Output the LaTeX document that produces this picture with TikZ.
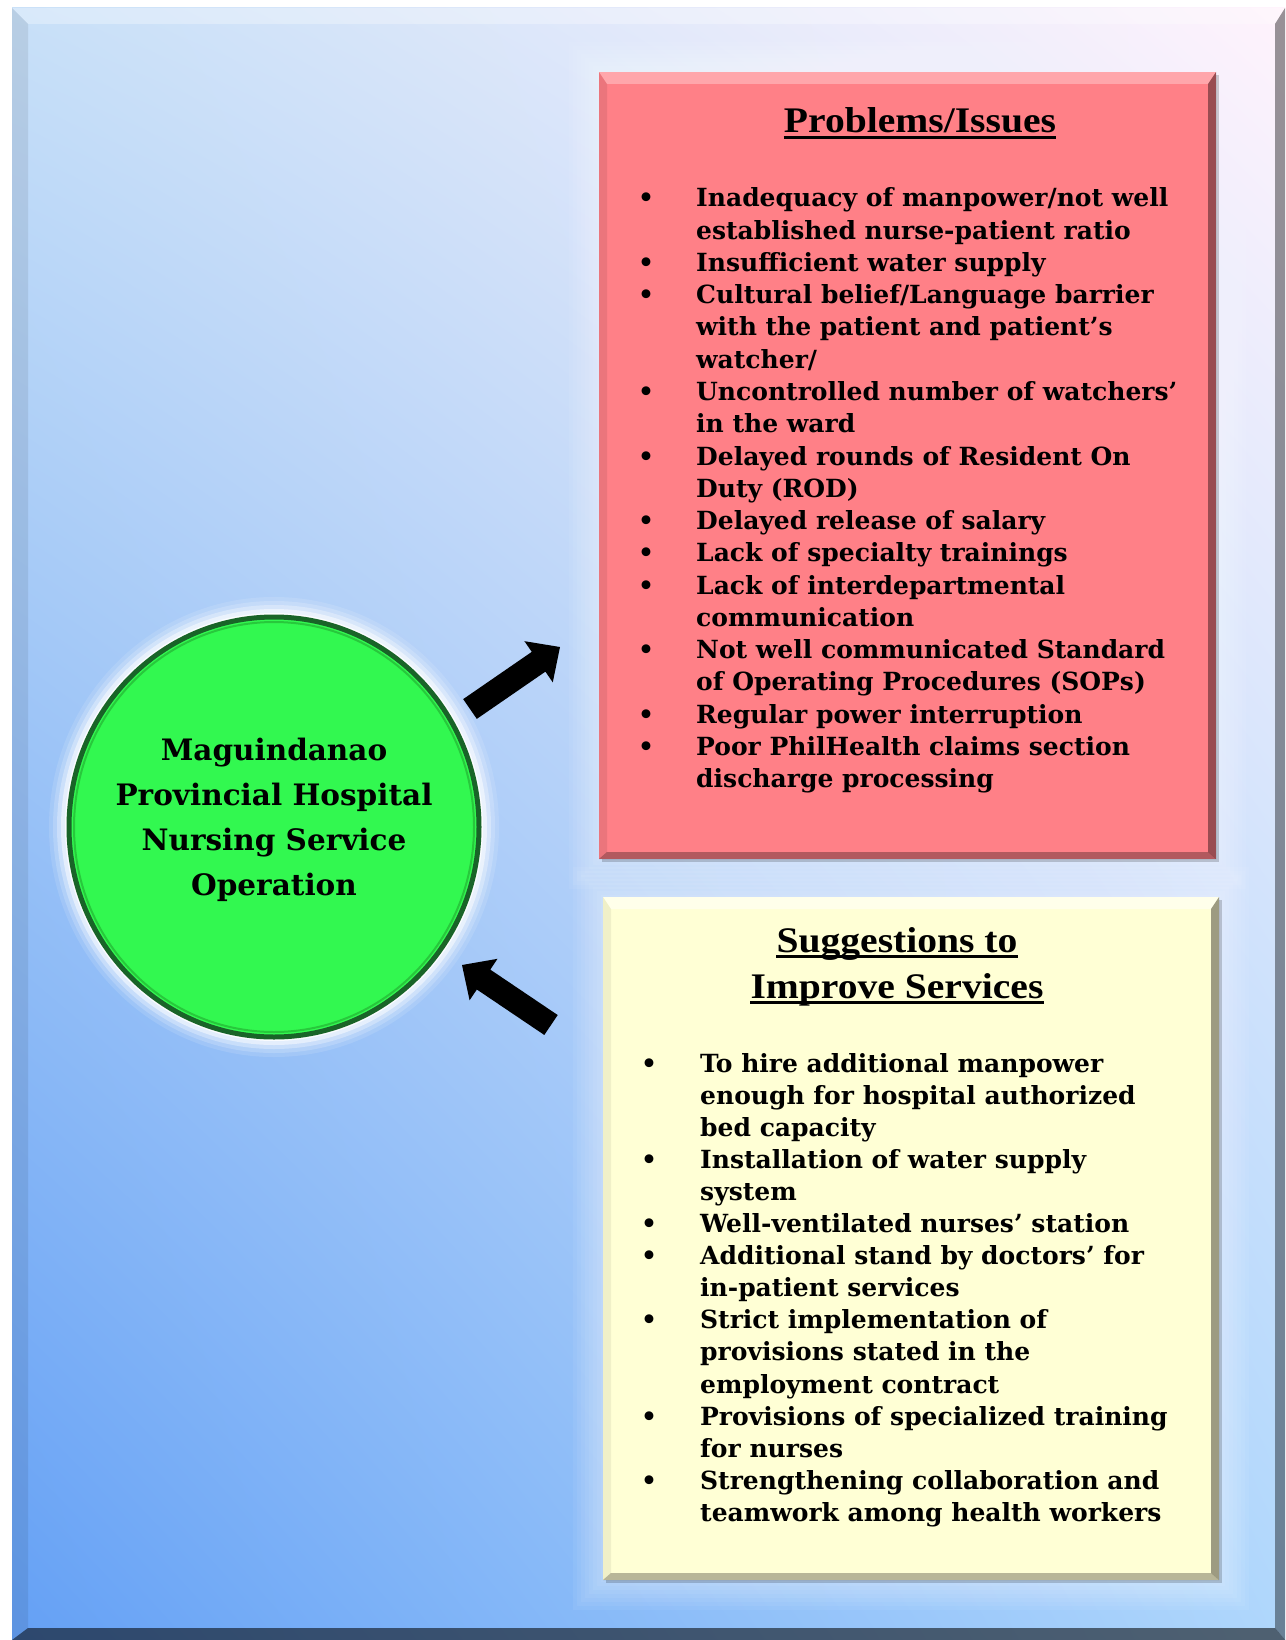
\documentclass[tikz,border=0pt]{standalone}
\usepackage{fontspec}
\setmainfont{DejaVu Serif}
\newfontfamily\titlefont[FakeStretch=1.1]{Liberation Serif}
\usetikzlibrary{calc,shapes.geometric,shadings}
\definecolor{bgUL}{RGB}{200,224,248}
\definecolor{bgUR}{RGB}{255,243,252}
\definecolor{bgLL}{RGB}{100,160,245}
\definecolor{bgLR}{RGB}{175,215,252}
\definecolor{redfill}{RGB}{255,128,135}
\definecolor{yelfill}{RGB}{255,255,213}
\definecolor{hubfill}{RGB}{50,248,80}
\definecolor{hubedge}{RGB}{25,100,40}
\definecolor{hubring}{RGB}{40,200,60}
\newcommand{\itm}{\makebox[50pt][l]{\makebox[0pt][c]{\textbullet}}}
\newcommand{\itmb}{\makebox[51pt][l]{\makebox[0pt][c]{\textbullet}}}
\newcommand{\fatarrow}[2]{%
  \coordinate (fab) at ($(#2)!26pt!(#1)$);
  \fill[black] ($(#1)!12pt!90:(#2)$) -- ($(fab)!12pt!90:(#2)$) -- ($(fab)!25pt!90:(#2)$) -- (#2)
    -- ($(fab)!25pt!-90:(#2)$) -- ($(fab)!12pt!-90:(#2)$) -- ($(#1)!12pt!-90:(#2)$) -- cycle;}
\begin{document}
\begin{tikzpicture}[x=1pt,y=-1pt,
  panelbox/.style={inner sep=0pt, outer sep=0pt, anchor=north west},
  listtext/.style={inner sep=0pt, anchor=base west, font=\fontsize{25}{#1}\selectfont\bfseries},
  titletext/.style={inner sep=0pt, anchor=base, font=\titlefont\fontsize{36}{40}\selectfont\bfseries},
  hubtext/.style={inner sep=0pt, anchor=base, font=\fontsize{29.5}{45.2}\selectfont\bfseries},
  uline/.style={line width=2.2pt, black}]
\useasboundingbox (0,0) rectangle (1285,1640);
\fill[white] (0,0) rectangle (1285,1640);
% background panel
\shade[upper left=bgUL, upper right=bgUR, lower left=bgLL, lower right=bgLR] (12,8) rectangle (1285,1640);
\fill[white,opacity=.3] (12,8) -- (1285,8) -- (1275,24) -- (28,24) -- cycle;
\fill[black,opacity=.08] (12,8) -- (28,24) -- (28,1628) -- (12,1640) -- cycle;
\fill[black,opacity=.4] (1285,8) -- (1285,1640) -- (1275,1628) -- (1275,24) -- cycle;
\fill[black,opacity=.55] (12,1640) -- (1285,1640) -- (1275,1628) -- (28,1628) -- cycle;
% halos
\foreach \d in {30,26,...,2}{
  \fill[white,opacity=.06] ({599-\d},{72-\d}) rectangle ({1216+\d},{859+\d});
  \fill[white,opacity=.06] ({603-\d},{897-\d}) rectangle ({1219+\d},{1580+\d});
}
\foreach \d/\o in {20/.12,16/.18,12/.3,8/.5,4/.8}{
  \fill[white,opacity=\o] (274,827) ellipse [x radius={205+\d}, y radius={210+\d}];
}
% problems box
\fill[black,opacity=.18] (602,75) rectangle (1219,862);
\node[panelbox, fill=redfill, minimum width=617pt, minimum height=787pt] (prob) at (599,72) {};
\fill[white,opacity=.3] (prob.north west) -- (prob.north east) -- ([shift={(-8,12)}]prob.north east) -- ([shift={(8,12)}]prob.north west) -- cycle;
\fill[black,opacity=.08] (prob.north west) -- ([shift={(8,12)}]prob.north west) -- ([shift={(8,-7)}]prob.south west) -- (prob.south west) -- cycle;
\fill[black,opacity=.4] (prob.north east) -- (prob.south east) -- ([shift={(-8,-7)}]prob.south east) -- ([shift={(-8,12)}]prob.north east) -- cycle;
\fill[black,opacity=.3] (prob.south west) -- (prob.south east) -- ([shift={(-8,-7)}]prob.south east) -- ([shift={(8,-7)}]prob.south west) -- cycle;
% suggestions box
\fill[black,opacity=.18] (606,900) rectangle (1222,1583);
\node[panelbox, fill=yelfill, minimum width=616pt, minimum height=683pt] (sugg) at (603,897) {};
\fill[white,opacity=.5] (sugg.north west) -- (sugg.north east) -- ([shift={(-8,12)}]sugg.north east) -- ([shift={(8,12)}]sugg.north west) -- cycle;
\fill[black,opacity=.06] (sugg.north west) -- ([shift={(8,12)}]sugg.north west) -- ([shift={(8,-7)}]sugg.south west) -- (sugg.south west) -- cycle;
\fill[black!60!yellow!50!black,opacity=.55] (sugg.north east) -- (sugg.south east) -- ([shift={(-8,-7)}]sugg.south east) -- ([shift={(-8,12)}]sugg.north east) -- cycle;
\fill[black!60!yellow!50!black,opacity=.4] (sugg.south west) -- (sugg.south east) -- ([shift={(-8,-7)}]sugg.south east) -- ([shift={(8,-7)}]sugg.south west) -- cycle;
% hub circle
\node[ellipse, minimum width=410pt, minimum height=420pt, inner sep=0pt, fill=hubfill, draw=hubedge, line width=5pt] (hub) at (274,827) {};
\draw[hubring, line width=2pt] (hub.center) ellipse [x radius=200, y radius=205];
\node[hubtext] (hubt) at (274,760) {\begin{tabular}[t]{@{}c@{}}Maguindanao\\Provincial Hospital\\Nursing Service\\Operation\end{tabular}};
% arrows
\coordinate (a1tail) at (470,709);
\coordinate (a1tip) at (560,647);
\coordinate (a2tail) at (551,1025);
\coordinate (a2tip) at (462,965);
\fatarrow{a1tail}{a1tip}
\fatarrow{a2tail}{a2tip}
% titles
\node[titletext] (t1) at (920,133) {Problems/Issues};
\draw[uline] ([yshift=-4.5pt]t1.base west) -- ([yshift=-4.5pt]t1.base east);
\node[titletext] (t2) at (897,952) {Suggestions to};
\draw[uline] ([yshift=-4.5pt]t2.base west) -- ([yshift=-4.5pt]t2.base east);
\node[titletext] (t3) at (897,998) {Improve Services};
\draw[uline] ([yshift=-4.5pt]t3.base west) -- ([yshift=-4.5pt]t3.base east);
% lists
\node[listtext=32.25] (plist) at (646,207) {\begin{tabular}[t]{@{}l@{}l@{}}
\itm & Inadequacy of manpower/not well\\
 & established nurse-patient ratio\\
\itm & Insufficient water supply\\
\itm & Cultural belief/Language barrier\\
 & with the patient and patient’s\\
 & watcher/\\
\itm & Uncontrolled number of watchers’\\
 & in the ward\\
\itm & Delayed rounds of Resident On\\
 & Duty (ROD)\\
\itm & Delayed release of salary\\
\itm & Lack of specialty trainings\\
\itm & Lack of interdepartmental\\
 & communication\\
\itm & Not well communicated Standard\\
 & of Operating Procedures (SOPs)\\
\itm & Regular power interruption\\
\itm & Poor PhilHealth claims section\\
 & discharge processing
\end{tabular}};
\node[listtext=32.1] (slist) at (649,1072) {\begin{tabular}[t]{@{}l@{}l@{}}
\itmb & To hire additional manpower\\
 & enough for hospital authorized\\
 & bed capacity\\
\itmb & Installation of water supply\\
 & system\\
\itmb & Well-ventilated nurses’ station\\
\itmb & Additional stand by doctors’ for\\
 & in-patient services\\
\itmb & Strict implementation of\\
 & provisions stated in the\\
 & employment contract\\
\itmb & Provisions of specialized training\\
 & for nurses\\
\itmb & Strengthening collaboration and\\
 & teamwork among health workers
\end{tabular}};
\end{tikzpicture}
\end{document}
